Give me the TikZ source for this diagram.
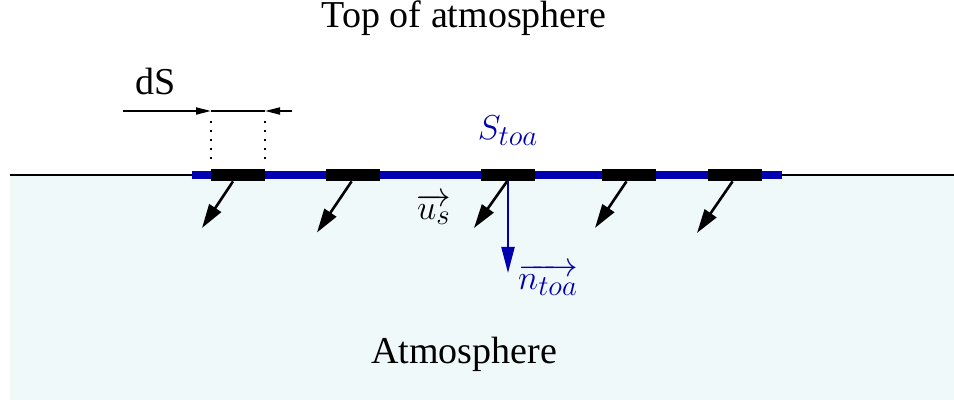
\documentclass[tikz,border=0pt]{standalone}
\usepackage{fontspec}
\setmainfont{Liberation Serif}
\usetikzlibrary{arrows.meta}
\definecolor{dkblue}{RGB}{0,0,176}
\definecolor{atmo}{RGB}{240,249,250}
\tikzset{
  seg/.style={fill=black, minimum width=27pt, minimum height=6pt, inner sep=0pt},
  sarrow/.style={line width=1.3pt, -{Triangle[length=12pt,width=7pt]}},
  narrow/.style={dkblue, line width=1.1pt, -{Triangle[length=13pt,width=6.5pt]}},
  dsarrow/.style={line width=0.9pt, -{Triangle[length=7.5pt,width=3.5pt]}},
  guide/.style={line width=0.9pt, dash pattern=on 1pt off 3.5pt},
  lbl/.style={font=\fontsize{19}{23}\selectfont, inner sep=0pt},
}
\begin{document}
\begin{tikzpicture}[x=0.5pt,y=-0.5pt]
\useasboundingbox (0,0) rectangle (954,400);
\fill[atmo] (10,175) rectangle (954,400);
\draw[line width=1.3pt] (10,175) -- (954,175);
\draw[dkblue, line width=4pt] (192,175) -- (782,175);
\node[seg] (s1) at (238,175) {};
\node[seg] (s2) at (353,175) {};
\node[seg] (s3) at (508,175) {};
\node[seg] (s4) at (628.5,175) {};
\node[seg] (s5) at (735,175) {};
\coordinate (t1) at (202,228);
\coordinate (t2) at (317,232.5);
\coordinate (t3) at (474,228);
\coordinate (t4) at (595,228);
\coordinate (t5) at (697,233);
\coordinate (tn) at (508,273);
\draw[sarrow] ([xshift=-2.5pt]s1.south) -- (t1);
\draw[sarrow] ([xshift=-0.7pt]s2.south) -- (t2);
\draw[sarrow] ([xshift=-0.5pt]s3.south) -- (t3);
\draw[sarrow] ([xshift=-1pt]s4.south) -- (t4);
\draw[sarrow] ([xshift=-1.2pt]s5.south) -- (t5);
\draw[narrow] (s3.south) -- (tn);
% dS markers
\coordinate (dl) at (123,111);
\coordinate (dr) at (292,111);
\coordinate (da) at (211,111);
\coordinate (db) at (265,111);
\draw[line width=0.9pt] (da) -- (db);
\draw[dsarrow] (dl) -- (da);
\draw[dsarrow] (dr) -- (db);
\coordinate (pa) at (211,121);
\coordinate (pb) at (265,121);
\coordinate (qa) at (211,162);
\coordinate (qb) at (265,162);
\draw[guide] (pa) -- (qa);
\draw[guide] (pb) -- (qb);
% labels
\node[lbl] (top) at (464,18) {Top of atmosphere};
\node[lbl] (ds) at (156,82) {dS};
\node[lbl, text=dkblue] (stoa) at (508,131) {$S_{toa}$};
\node[lbl] (us) at (434,209) {$\overrightarrow{u_s}$};
\node[lbl, text=dkblue] (ntoa) at (548,280) {$\overrightarrow{n_{toa}}$};
\node[lbl] (atm) at (464,354) {Atmosphere};
\end{tikzpicture}
\end{document}
